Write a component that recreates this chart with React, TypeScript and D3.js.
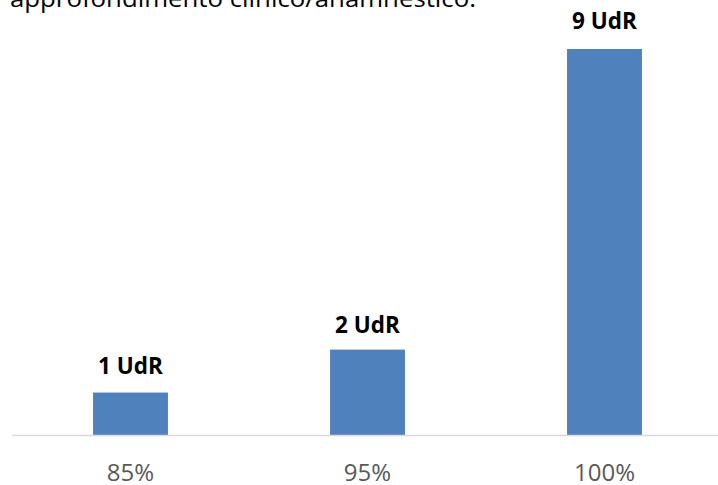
import React from "react";
import * as d3 from "d3";

const categories = ["85%", "95%", "100%"];
const values = [1, 2, 9];
const labels = ["1 UdR", "2 UdR", "9 UdR"];
const titleText = "approfondimento clinico/anamnestico.";

const W = 718;
const H = 485;
const FONT = "'Open Sans', 'Liberation Sans', sans-serif";

export default function App() {
  const x = d3.scaleBand<string>().domain(categories).range([12, 723]).paddingInner(0.684).paddingOuter(0.342);
  const y = d3.scaleLinear().domain([0, 9]).range([435.5, 49]);
  const bw = x.bandwidth();
  const labelGap = [18.5, 17, 20];

  return (
    <svg width={W} height={H} style={{ position: "absolute", left: 0, top: 0, background: "#fff" }}>
      <text x={10} y={7} fontFamily={FONT} fontSize={24} fill="#000" textLength={466} lengthAdjust="spacingAndGlyphs">
        {titleText}
      </text>
      {categories.map((c, i) => (
        <g key={c}>
          <rect x={x(c)!} y={y(values[i])} width={bw} height={y(0) - y(values[i])} fill="#4F81BD" />
          <text
            x={x(c)! + bw / 2}
            y={y(values[i]) - labelGap[i]}
            textAnchor="middle"
            fontFamily={FONT}
            fontWeight="bold"
            fontSize={22.5}
            fill="#000"
          >
            {labels[i]}
          </text>
          <text x={x(c)! + bw / 2} y={481} textAnchor="middle" fontFamily={FONT} fontSize={24} fill="#595959">
            {c}
          </text>
        </g>
      ))}
      <line x1={12} x2={718} y1={435.5} y2={435.5} stroke="#D9D9D9" strokeWidth={1.5} />
    </svg>
  );
}
